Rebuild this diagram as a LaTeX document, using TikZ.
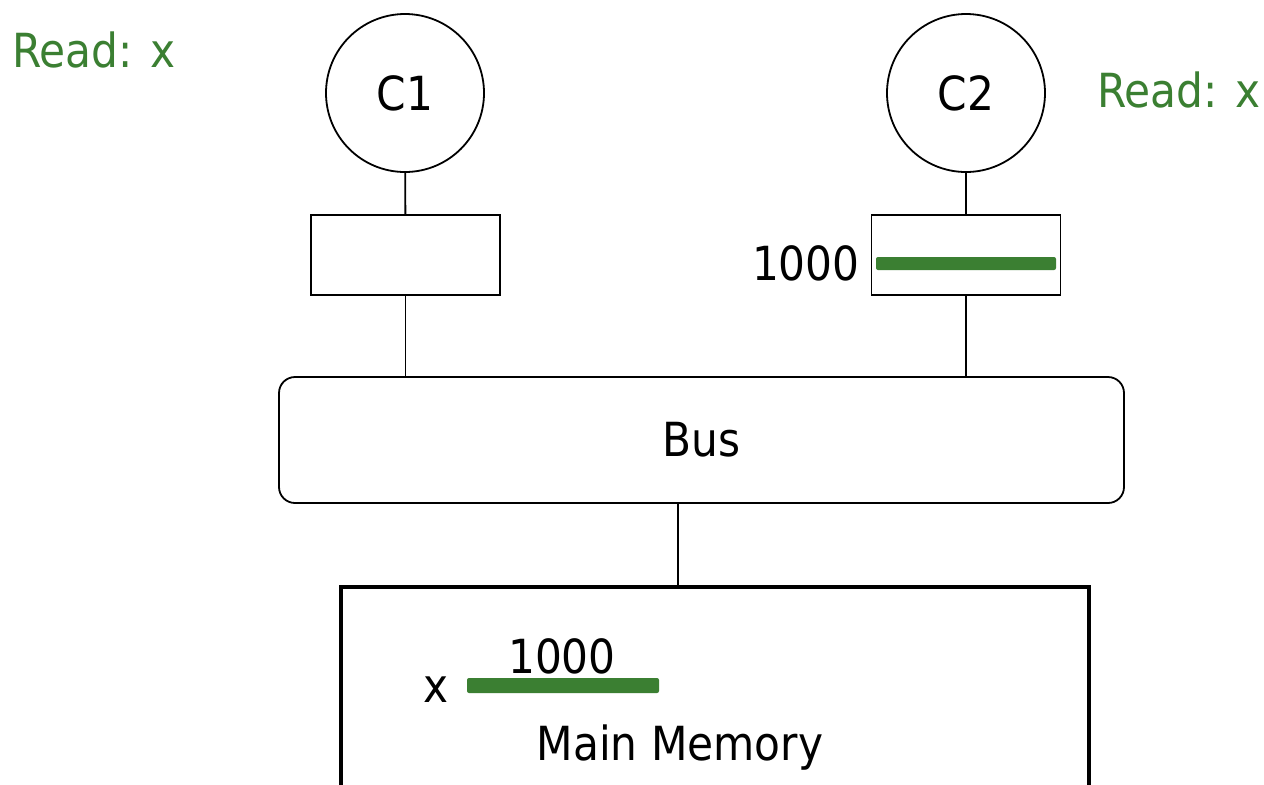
\documentclass[tikz,border=0pt]{standalone}
\usepackage{fontspec}
\setmainfont{DejaVu Sans Condensed}
\usetikzlibrary{positioning}
\definecolor{leaf}{HTML}{3B7F32}

\tikzset{
  core/.style={draw, circle, line width=0.9pt, minimum size=79pt, inner sep=0pt},
  cache/.style={draw, line width=0.9pt, minimum width=94.5pt, minimum height=40pt, inner sep=0pt},
  bus/.style={draw, rounded corners=8pt, line width=0.9pt, minimum width=422.5pt, minimum height=63pt},
  memory/.style={draw, line width=2pt, minimum width=374pt, minimum height=200pt, inner sep=0pt},
  wire/.style={line width=0.9pt},
  label/.style={font=\fontsize{23.5}{26}\selectfont, inner sep=0pt},
  note/.style={label, text=leaf}
}

\begin{document}
\begin{tikzpicture}[x=0.5pt,y=-0.5pt]
  \clip (0,0) rectangle (1264,784);
  \fill[white] (0,0) rectangle (1264,784);

  % cached and stored values
  \fill[leaf, rounded corners=1pt] (876,257) rectangle (1056,270);
  \fill[leaf, rounded corners=1pt] (467,678) rectangle (659,693);

  % cores and their caches
  \node[core] (c1) at (405,93) {\fontsize{23.5}{26}\selectfont C1};
  \node[core] (c2) at (966,93) {\fontsize{23.5}{26}\selectfont C2};
  \node[cache] (cache1) at (405.5,255) {};
  \node[cache] (cache2) at (966,255) {};

  % bus and memory
  \node[bus] (bus) at (701.5,440) {\fontsize{23.5}{26}\selectfont Bus};
  \node[memory, anchor=north] (mem) at (715,585) {};
  \coordinate (link) at (678,503);

  \draw[wire] (c1) -- (cache1);
  \draw[wire] (c2) -- (cache2);
  \draw[wire] (cache1.south) -- (cache1.south |- bus.north);
  \draw[wire] (cache2.south) -- (cache2.south |- bus.north);
  \draw[wire] (bus.south -| link) -- (mem.north -| link);

  \node[label, anchor=east] (val2) at (860,263) {1000};
  \node[label] (valm) at (562,656) {1000};
  \node[label] (varx) at (436,690) {x};
  \node[label] (memname) at (680,748) {Main Memory};

  % requests
  \node[note, anchor=west] (read1) at (12,50) {Read: x};
  \node[note, anchor=west] (read2) at (1097,90) {Read: x};
\end{tikzpicture}
\end{document}
